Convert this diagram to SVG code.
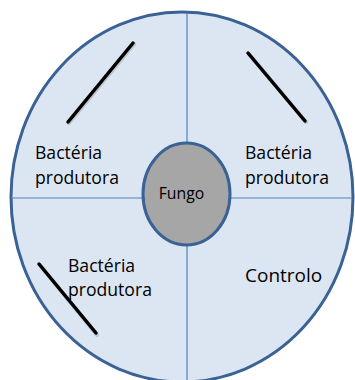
<svg xmlns="http://www.w3.org/2000/svg" width="355" height="380" viewBox="0 0 355 380">
<style>
.lbl{font-family:"Open Sans","Liberation Sans",sans-serif;font-size:17.6px;fill:#000}
.div{stroke:#4f81bd;stroke-width:1.2;fill:none}
.bac{stroke:#000;stroke-width:3.5;stroke-linecap:round}
.shadow{stroke:#888;stroke-width:4;stroke-linecap:round;opacity:0.35}
</style>
<rect width="355" height="380" fill="#fff"/>
<g id="plate">
<ellipse cx="182" cy="197" rx="171" ry="185" fill="#dce6f2" stroke="#3a6295" stroke-width="3"/>
</g>
<g id="connectors">
<line class="div" x1="187" y1="13" x2="187" y2="381"/>
<line class="div" x1="11" y1="198" x2="352" y2="198"/>
</g>
<g id="fungo">
<ellipse cx="186.5" cy="194" rx="43.5" ry="51" fill="#a6a6a6" stroke="#3a6295" stroke-width="3"/>
<text class="lbl" x="181.5" y="198.5" style="font-size:15.8px" text-anchor="middle">Fungo</text>
</g>
<g id="bacteria-tl">
<line class="shadow" x1="134" y1="44" x2="69" y2="123"/>
<line class="bac" x1="133" y1="43" x2="68" y2="122"/>
<text class="lbl" x="35" y="159">Bactéria</text>
<text class="lbl" x="35" y="184">produtora</text>
</g>
<g id="bacteria-tr">
<line class="shadow" x1="249" y1="54" x2="306" y2="122"/>
<line class="bac" x1="248" y1="53" x2="305" y2="121"/>
<text class="lbl" x="245" y="159">Bactéria</text>
<text class="lbl" x="245" y="184">produtora</text>
</g>
<g id="bacteria-bl">
<line class="shadow" x1="40" y1="265" x2="97" y2="335"/>
<line class="bac" x1="39" y1="264" x2="96" y2="333"/>
<text class="lbl" x="68" y="272">Bactéria</text>
<text class="lbl" x="68" y="296">produtora</text>
</g>
<g id="controlo">
<text class="lbl" x="245" y="282" style="font-size:19px">Controlo</text>
</g>
</svg>
